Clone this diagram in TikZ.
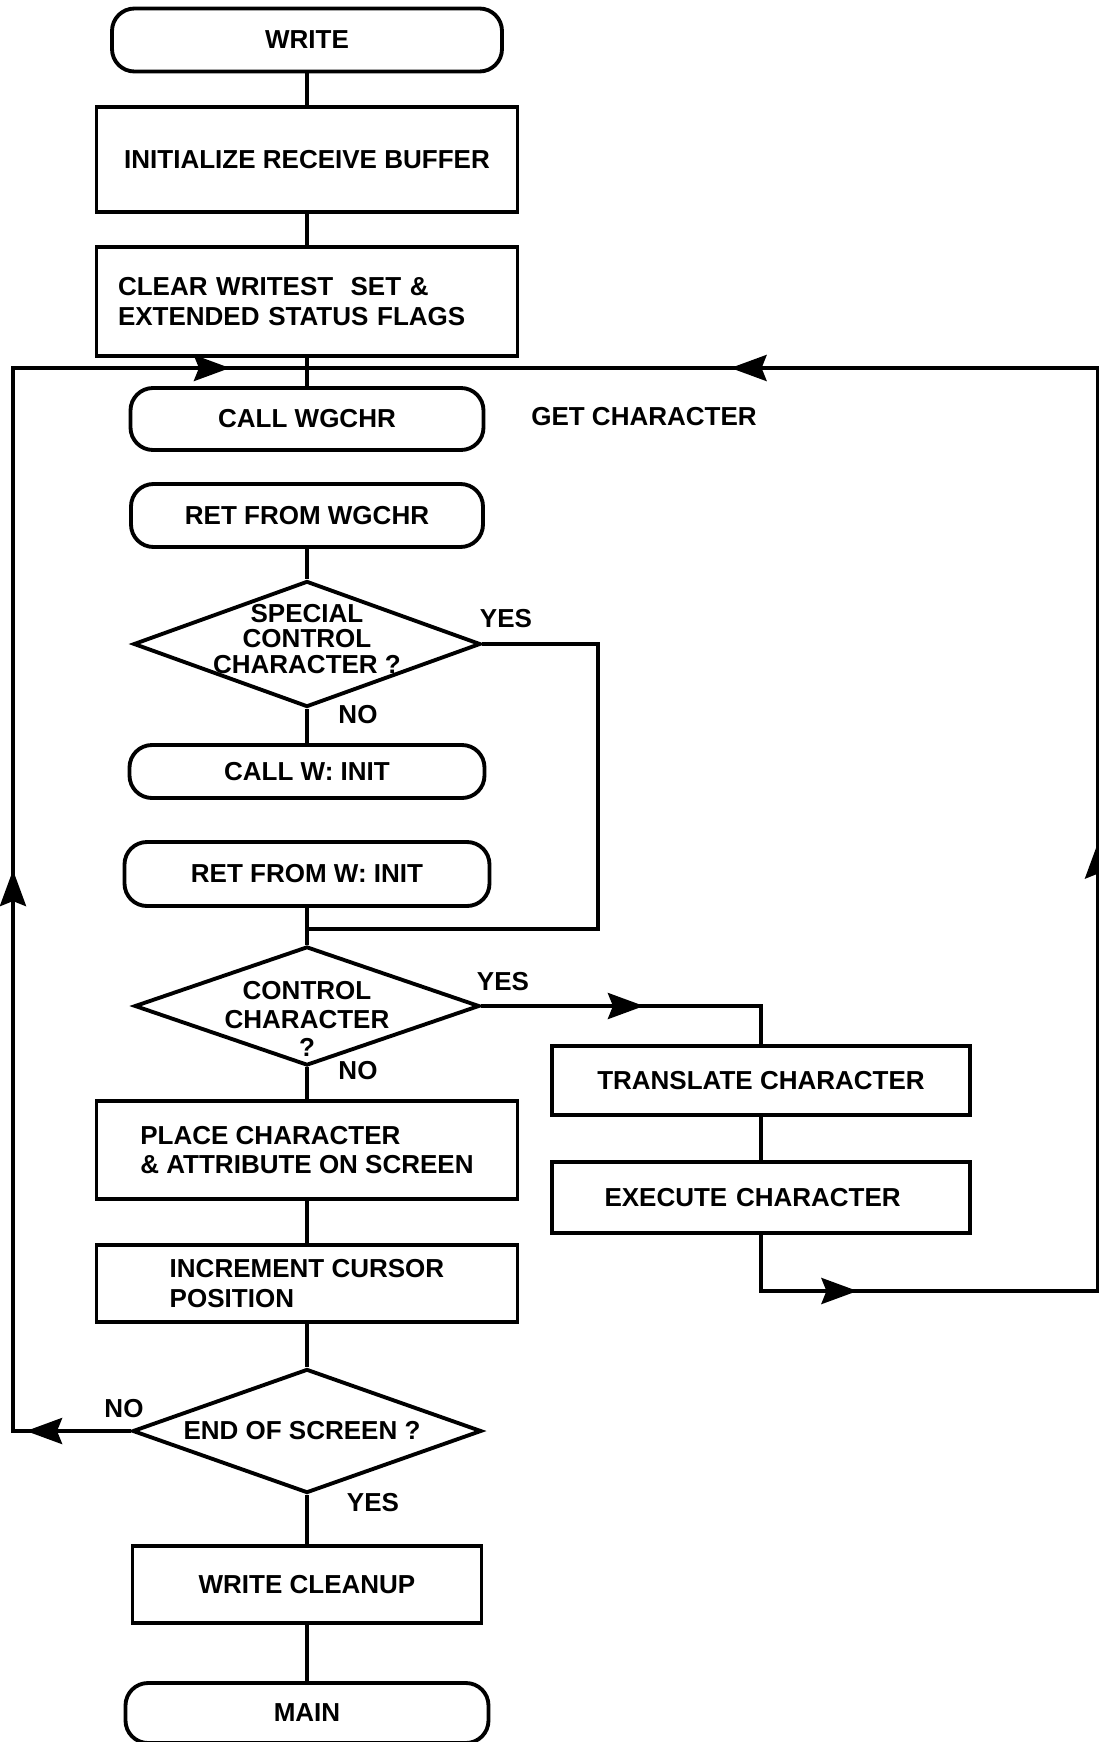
\documentclass[tikz,border=0pt]{standalone}
\usepackage{fontspec}
\setmainfont{Liberation Sans}
\usetikzlibrary{arrows.meta,shapes.geometric,decorations.markings}

\begin{document}
\begin{tikzpicture}[line width=2.2pt,
  every node/.style={font=\bfseries\fontsize{14.8}{17}\selectfont},
  flowtip/.tip={Stealth[length=0.72cm,width=0.52cm,inset=0.1cm]},
  arrowat/.style={postaction={decorate,decoration={markings,mark=at position #1 with {\arrow{flowtip}}}}},
  procbox/.style={draw,rectangle,align=left,minimum width=8.42cm,inner sep=0pt},
  termbox/.style={draw,rectangle,rounded corners=0.45cm,inner sep=0pt},
  decision/.style={draw,diamond,inner sep=0pt},
  dtext/.style={align=center}]
\useasboundingbox (0,0) rectangle (21.98,-34.84);

% main column
\node[termbox,minimum width=7.80cm,minimum height=1.26cm] (write) at (6.14,-0.80) {WRITE};
\node[procbox,minimum height=2.10cm] (init) at (6.14,-3.19) {INITIALIZE RECEIVE BUFFER};
\node[procbox,minimum height=2.18cm,text width=7.56cm] (clear) at (6.14,-6.03) {CLEAR WRITEST\ \ SET \&\\EXTENDED STATUS FLAGS};
\node[termbox,minimum width=7.06cm,minimum height=1.24cm] (callw) at (6.14,-8.38) {CALL WGCHR};
\node (getchar) at (12.88,-8.34) {GET CHARACTER};
\node[termbox,minimum width=7.04cm,minimum height=1.26cm] (retw) at (6.14,-10.31) {RET FROM WGCHR};
\node[decision,minimum width=6.94cm,minimum height=2.52cm] (special) at (6.14,-12.88) {};
\node[dtext,font=\bfseries\fontsize{14.8}{14.7}\selectfont] (special-t) at (6.14,-12.78) {SPECIAL\\CONTROL\\CHARACTER ?};
\node (yes1) at (10.12,-12.38) {YES};
\node (no1) at (7.16,-14.30) {NO};
\node[termbox,minimum width=7.10cm,minimum height=1.06cm] (callinit) at (6.14,-15.43) {CALL W: INIT};
\node[termbox,minimum width=7.30cm,minimum height=1.28cm] (retinit) at (6.14,-17.48) {RET FROM W: INIT};
\node[decision,minimum width=6.90cm,minimum height=2.38cm] (ctrl) at (6.14,-20.12) {};
\node[dtext,font=\bfseries\fontsize{14.8}{16.4}\selectfont] (ctrl-t) at (6.14,-20.38) {CONTROL\\CHARACTER\\?};
\node (yes2) at (10.06,-19.64) {YES};
\node (no2) at (7.16,-21.42) {NO};
\node[procbox,minimum height=1.96cm] (place) at (6.14,-23.00) {PLACE CHARACTER\\\& ATTRIBUTE ON SCREEN};
\node[procbox,minimum height=1.54cm] (incr) at (6.14,-25.67) {INCREMENT CURSOR\\POSITION};
\node[decision,minimum width=6.98cm,minimum height=2.48cm] (enddia) at (6.14,-28.62) {};
\node (enddia-t) at (6.04,-28.62) {END OF SCREEN ?};
\node (no3) at (2.48,-28.18) {NO};
\node (yes3) at (7.46,-30.06) {YES};
\node[procbox,minimum width=6.98cm,minimum height=1.54cm] (cleanup) at (6.14,-31.69) {WRITE CLEANUP};
\node[termbox,minimum width=7.26cm,minimum height=1.20cm] (main) at (6.14,-34.26) {MAIN};

% control character branch
\node[procbox,minimum width=8.36cm,minimum height=1.38cm] (translate) at (15.22,-21.61) {TRANSLATE CHARACTER};
\node[procbox,minimum width=8.36cm,minimum height=1.42cm,text width=7.36cm] (execute) at (15.22,-23.95) {\hspace*{0.55cm}EXECUTE CHARACTER};

\coordinate (join) at (6.14,-7.36);
\coordinate (lowleft) at (0.26,-28.62);
\coordinate (upleft) at (0.26,-7.36);
\coordinate (sp-r1) at (11.96,-12.88);
\coordinate (sp-r2) at (11.96,-18.58);
\coordinate (sp-join) at (6.14,-18.58);
\coordinate (ex-low) at (15.22,-25.82);
\coordinate (lowright) at (21.96,-25.82);
\coordinate (upright) at (21.96,-7.36);

\draw (write) -- (init) -- (clear) -- (callw);
\draw (retw) -- (special) -- (callinit);
\draw (retinit) -- (ctrl) -- (place) -- (incr) -- (enddia) -- (cleanup) -- (main);
\draw (translate) -- (execute);
\draw (special.east) -- (sp-r1) -- (sp-r2) -- (sp-join);
\draw[arrowat=3.25cm] (ctrl.east) -- (ctrl.east -| translate) -- (translate);
\draw[arrowat=2.09cm,arrowat=13.57cm,arrowat=27.95cm] (enddia.west) -- (lowleft) -- (upleft) -- (join);
\draw[arrowat=3.05cm,arrowat=16.83cm,arrowat=33.67cm] (execute.south) -- (ex-low) -- (lowright) -- (upright) -- (join);
\end{tikzpicture}
\end{document}
